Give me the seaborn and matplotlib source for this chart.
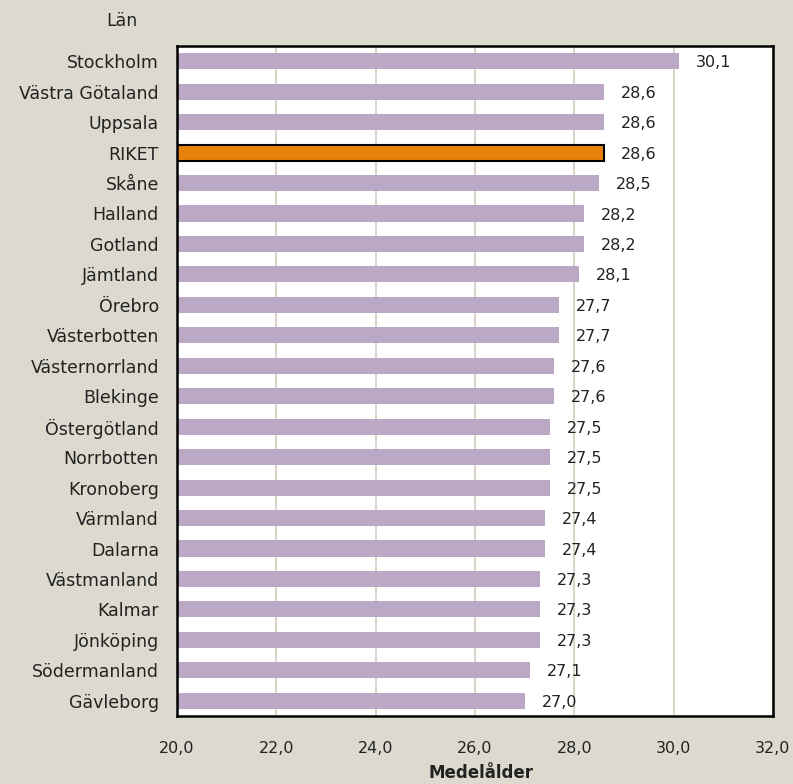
import numpy as np
import pandas as pd
import matplotlib
matplotlib.use("Agg")
import matplotlib.pyplot as plt
import seaborn as sns

lan = ['Stockholm', 'Västra Götaland', 'Uppsala', 'RIKET', 'Skåne', 'Halland',
       'Gotland', 'Jämtland', 'Örebro', 'Västerbotten', 'Västernorrland',
       'Blekinge', 'Östergötland', 'Norrbotten', 'Kronoberg', 'Värmland',
       'Dalarna', 'Västmanland', 'Kalmar', 'Jönköping', 'Södermanland', 'Gävleborg']
medelalder = [30.1, 28.6, 28.6, 28.6, 28.5, 28.2, 28.2, 28.1, 27.7, 27.7, 27.6,
              27.6, 27.5, 27.5, 27.5, 27.4, 27.4, 27.3, 27.3, 27.3, 27.1, 27.0]

df = pd.DataFrame({'lan': lan, 'medelalder': medelalder})
bg = '#dcd9ce'
purple = '#bba8c4'
orange = '#e8820c'
colors = [orange if l == 'RIKET' else purple for l in lan]

plt.rcParams['font.family'] = ['DejaVu Sans']
fig = plt.figure(figsize=(7.93, 7.84), dpi=100, facecolor=bg)
ax = fig.add_axes([177 / 793, 1 - 716 / 784, 596 / 793, 670 / 784])
ax.set_facecolor('white')

sns.barplot(data=df, y='lan', x='medelalder', hue='lan', palette=colors,
            legend=False, width=0.53, saturation=1, ax=ax, zorder=2)
for p, l in zip(ax.patches, lan):
    if l == 'RIKET':
        p.set_edgecolor('black')
        p.set_linewidth(1.5)

for i, v in enumerate(medelalder):
    ax.text(v + 0.34, i + 0.05, f'{v:.1f}'.replace('.', ','), va='center', ha='left',
            fontsize=11.5, color='#222222')

ax.set_xlim(20, 32)
ax.set_xticks(np.arange(20, 33, 2))
ax.set_xticklabels([f'{t:.1f}'.replace('.', ',') for t in np.arange(20, 33, 2)],
                   fontsize=11.5, color='#222222')
ax.grid(axis='x', color='#d9d5cb', linewidth=1.5, zorder=0)
ax.set_axisbelow(True)
ax.tick_params(axis='both', length=0)
ax.tick_params(axis='y', pad=13, labelsize=12.5, labelcolor='#222222')
ax.tick_params(axis='x', pad=18)
for s in ax.spines.values():
    s.set_color('black')
    s.set_linewidth(1.8)
ax.set_ylabel('')
ax.set_xlabel('Medelålder', fontweight='bold', fontsize=12, color='#222222', va='center')
ax.xaxis.set_label_coords(0.51, -(773 - 716) / 670)
fig.text(122 / 793, 1 - 21 / 784, 'Län', ha='center', va='center', fontsize=12.5,
         color='#222222')

fig.savefig('out.png', dpi=100, facecolor=bg)
